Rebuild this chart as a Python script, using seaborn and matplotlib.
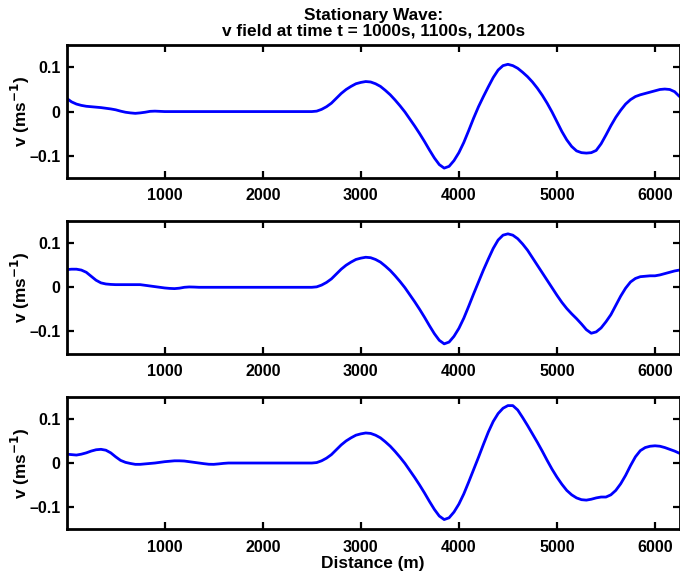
import numpy as np
import pandas as pd
import matplotlib
matplotlib.use("Agg")
import matplotlib.pyplot as plt
import seaborn as sns

# ---- data (distance step 50 m, 0..6250 m) ----
step_m = 50

left_1000 = [0.030, 0.022, 0.017, 0.014, 0.012, 0.011, 0.010, 0.009, 0.0075, 0.006,
             0.004, 0.001, -0.0015, -0.003, -0.004, -0.003, -0.0015, 0.0005, 0.001, 0.0005,
             0.0, 0.0, 0.0, 0.0, 0.0, 0.0, 0.0, 0.0, 0.0, 0.0,
             0.0, 0.0, 0.0, 0.0, 0.0, 0.0, 0.0, 0.0, 0.0, 0.0,
             0.0, 0.0, 0.0, 0.0, 0.0, 0.0, 0.0, 0.0, 0.0, 0.0]
left_1100 = [0.040, 0.041, 0.041, 0.039, 0.034, 0.025, 0.016, 0.010, 0.0075, 0.0065,
             0.006, 0.006, 0.006, 0.006, 0.006, 0.006, 0.0045, 0.003, 0.0015, 0.0,
             -0.0015, -0.0025, -0.003, -0.002, 0.0, 0.0008, 0.0005, 0.0, 0.0, 0.0,
             0.0, 0.0, 0.0, 0.0, 0.0, 0.0, 0.0, 0.0, 0.0, 0.0,
             0.0, 0.0, 0.0, 0.0, 0.0, 0.0, 0.0, 0.0, 0.0, 0.0]
left_1200 = [0.020, 0.019, 0.018, 0.020, 0.023, 0.027, 0.030, 0.031, 0.029, 0.023,
             0.014, 0.006, 0.0015, -0.001, -0.003, -0.003, -0.002, -0.001, 0.0, 0.0015,
             0.003, 0.004, 0.005, 0.005, 0.0045, 0.003, 0.0015, 0.0, -0.0015, -0.0028,
             -0.003, -0.002, -0.0008, 0.0, 0.0, 0.0, 0.0, 0.0, 0.0, 0.0,
             0.0, 0.0, 0.0, 0.0, 0.0, 0.0, 0.0, 0.0, 0.0, 0.0]

# stationary part 2500..4150 m (same in all three snapshots)
core = [0.0, 0.001, 0.005, 0.011, 0.019, 0.030, 0.041, 0.050, 0.057, 0.063,
        0.066, 0.068, 0.067, 0.063, 0.057, 0.048, 0.038, 0.026, 0.013, -0.001,
        -0.017, -0.033, -0.050, -0.068, -0.087, -0.105, -0.120, -0.128, -0.124, -0.111,
        -0.093, -0.070, -0.043, -0.015]

right_1000 = [0.011, 0.034, 0.056, 0.077, 0.094, 0.104, 0.107, 0.104, 0.098, 0.089,
              0.079, 0.067, 0.053, 0.037, 0.019, -0.001, -0.023, -0.045, -0.064, -0.079,
              -0.089, -0.093, -0.094, -0.093, -0.088, -0.073, -0.053, -0.032, -0.013, 0.003,
              0.017, 0.027, 0.034, 0.038, 0.041, 0.044, 0.047, 0.050, 0.051, 0.050,
              0.045, 0.034]
right_1100 = [0.012, 0.039, 0.064, 0.088, 0.107, 0.118, 0.121, 0.118, 0.110, 0.098,
              0.084, 0.067, 0.050, 0.033, 0.016, -0.001, -0.018, -0.034, -0.048, -0.060,
              -0.071, -0.083, -0.096, -0.104, -0.101, -0.092, -0.078, -0.062, -0.041, -0.020,
              -0.002, 0.012, 0.020, 0.024, 0.025, 0.026, 0.026, 0.028, 0.031, 0.034,
              0.037, 0.039]
right_1200 = [0.013, 0.042, 0.070, 0.094, 0.112, 0.124, 0.130, 0.130, 0.120, 0.103,
              0.085, 0.066, 0.047, 0.027, 0.006, -0.014, -0.032, -0.048, -0.062, -0.072,
              -0.079, -0.083, -0.084, -0.082, -0.079, -0.077, -0.077, -0.072, -0.062, -0.047,
              -0.028, -0.006, 0.014, 0.028, 0.035, 0.038, 0.039, 0.038, 0.035, 0.031,
              0.027, 0.022]

v_1000 = left_1000 + core + right_1000
v_1100 = left_1100 + core + right_1100
v_1200 = left_1200 + core + right_1200
for v in (v_1000, v_1100, v_1200):
    assert len(v) == 126, len(v)

distance = np.arange(126) * step_m

xticks = [1000, 2000, 3000, 4000, 5000, 6000]
yticks = [-0.1, 0, 0.1]
yticklabels = ["\u20130.1", "0", "0.1"]
title = "Stationary Wave:\nv field at time t = 1000s, 1100s, 1200s"
ylabel = "v (ms$^{\\mathbf{-1}}$)"
xlabel = "Distance (m)"

# ---- styling ----
sns.set_theme(style="white")
plt.rcParams["font.family"] = ["Liberation Sans", "DejaVu Sans"]
plt.rcParams["font.weight"] = "bold"
plt.rcParams["mathtext.default"] = "bf"
plt.rcParams["text.color"] = "black"
plt.rcParams["axes.labelcolor"] = "black"
plt.rcParams["axes.titlecolor"] = "black"
plt.rcParams["xtick.color"] = "black"
plt.rcParams["ytick.color"] = "black"

fig, axes = plt.subplots(3, 1, figsize=(6.8, 5.78), dpi=100)
fig.subplots_adjust(left=0.098, right=0.9993, top=0.9216, bottom=0.0843, hspace=0.326)

fs = 11.5
fs_lab = 12.4
for ax, vals in zip(axes, [v_1000, v_1100, v_1200]):
    df = pd.DataFrame({"Distance": distance, "v": vals})
    sns.lineplot(data=df, x="Distance", y="v", ax=ax, color="#0000ff", linewidth=2.0)
    ax.set_xlim(0, 6250)
    ax.set_ylim(-0.15, 0.15)
    ax.set_xticks(xticks)
    ax.set_xticklabels([str(t) for t in xticks], fontsize=fs, fontweight="bold", color="black")
    ax.set_yticks(yticks)
    ax.set_yticklabels(yticklabels, fontsize=fs, fontweight="bold", color="black")
    ax.tick_params(axis="x", direction="in", length=5, width=1.6, top=True,
                   bottom=True, colors="black", pad=7.5)
    ax.tick_params(axis="y", direction="in", length=5, width=1.6, left=True,
                   right=True, colors="black", pad=4.5)
    for s in ax.spines.values():
        s.set_visible(True)
        s.set_linewidth(2.0)
        s.set_color("black")
    ax.set_xlabel("")
    ax.set_ylabel(ylabel, fontsize=fs_lab, fontweight="bold", color="black")
    ax.yaxis.set_label_coords(-0.056, 0.5)

axes[0].set_title(title, fontsize=fs_lab, fontweight="bold", pad=7.3, linespacing=1.0,
                  color="black")
axes[2].set_xlabel(xlabel, fontsize=fs_lab, fontweight="bold", labelpad=1, color="black")

fig.savefig("out.png", dpi=100)
